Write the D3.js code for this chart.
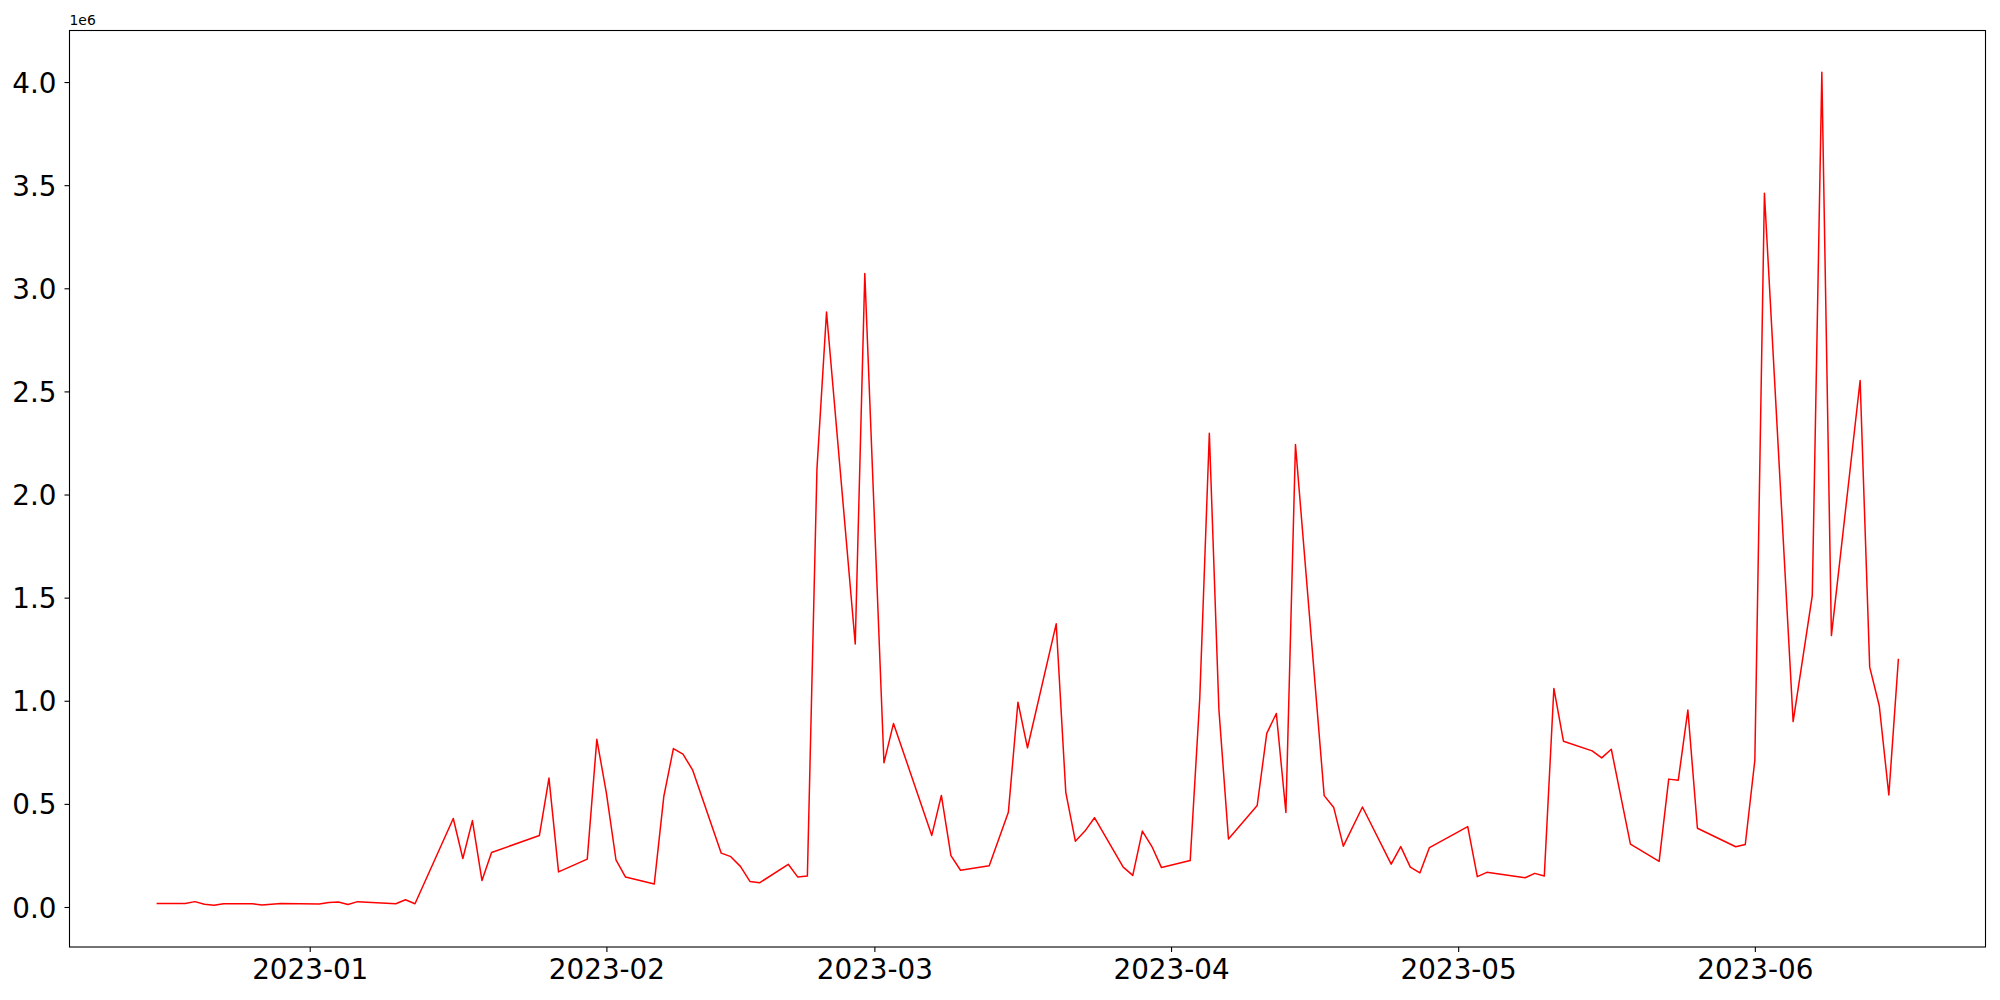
<!DOCTYPE html>
<html>
<head>
<meta charset="utf-8">
<script src="https://cdn.jsdelivr.net/npm/d3@7"></script>
<style>
  html, body { margin: 0; padding: 0; background: #fff; }
  svg { display: block; }
  text { font-family: "DejaVu Sans", sans-serif; fill: #000; }
</style>
</head>
<body>
<svg id="chart" width="2000" height="1000"></svg>
<script>
// ---- data (values in units, dates as YYYY-MM-DD) ----
const dates = [
  "2022-12-16","2022-12-19","2022-12-20","2022-12-21","2022-12-22","2022-12-23",
  "2022-12-26","2022-12-27","2022-12-29","2023-01-02","2023-01-03","2023-01-04",
  "2023-01-05","2023-01-06","2023-01-10","2023-01-11","2023-01-12","2023-01-16",
  "2023-01-17","2023-01-18","2023-01-19","2023-01-20","2023-01-25","2023-01-26",
  "2023-01-27","2023-01-30","2023-01-31","2023-02-01","2023-02-02","2023-02-03",
  "2023-02-06","2023-02-07","2023-02-08","2023-02-09","2023-02-10","2023-02-13",
  "2023-02-14","2023-02-15","2023-02-16","2023-02-17","2023-02-20","2023-02-21",
  "2023-02-22","2023-02-23","2023-02-24","2023-02-27","2023-02-28","2023-03-02",
  "2023-03-03","2023-03-07","2023-03-08","2023-03-09","2023-03-10","2023-03-13",
  "2023-03-15","2023-03-16","2023-03-17","2023-03-20","2023-03-21","2023-03-22",
  "2023-03-23","2023-03-24","2023-03-27","2023-03-28","2023-03-29","2023-03-30",
  "2023-03-31","2023-04-03","2023-04-04","2023-04-05","2023-04-06","2023-04-07",
  "2023-04-10","2023-04-11","2023-04-12","2023-04-13","2023-04-14","2023-04-17",
  "2023-04-18","2023-04-19","2023-04-21","2023-04-24","2023-04-25","2023-04-26",
  "2023-04-27","2023-04-28","2023-05-02","2023-05-03","2023-05-04","2023-05-08",
  "2023-05-09","2023-05-10","2023-05-11","2023-05-12","2023-05-15","2023-05-16",
  "2023-05-17","2023-05-19","2023-05-22","2023-05-23","2023-05-24","2023-05-25",
  "2023-05-26","2023-05-30","2023-05-31","2023-06-01","2023-06-02","2023-06-05",
  "2023-06-07","2023-06-08","2023-06-09","2023-06-12","2023-06-13","2023-06-14",
  "2023-06-15","2023-06-16"
];
const values = [
  17000, 17000, 26000, 13000, 8000, 16000,
  16000, 10000, 17000, 14000, 22000, 24000,
  12000, 26000, 16000, 35000, 16000, 429000,
  235000, 419000, 128000, 264000, 347000, 625000,
  170000, 232000, 813000, 552000, 229000, 145000,
  111000, 536000, 768000, 741000, 665000, 261000,
  244000, 197000, 124000, 117000, 207000, 145000,
  150000, 2124000, 2885000, 1275000, 3072000, 699000,
  890000, 347000, 541000, 249000, 178000, 200000,
  459000, 993000, 772000, 1373000, 556000, 319000,
  368000, 433000, 193000, 153000, 368000, 293000,
  191000, 225000, 1012000, 2297000, 957000, 330000,
  492000, 842000, 938000, 458000, 2242000, 540000,
  482000, 295000, 485000, 208000, 293000, 193000,
  165000, 288000, 390000, 147000, 168000, 142000,
  163000, 150000, 1060000, 804000, 757000, 723000,
  765000, 305000, 221000, 620000, 615000, 955000,
  382000, 292000, 303000, 712000, 3461000, 899000,
  1510000, 4048000, 1316000, 2553000, 1163000, 976000,
  543000, 1204000
];
const xTickDates = ["2023-01-01","2023-02-01","2023-03-01","2023-04-01","2023-05-01","2023-06-01"];
const xTickLabels = ["2023-01","2023-02","2023-03","2023-04","2023-05","2023-06"];
const yTicks = [0, 500000, 1000000, 1500000, 2000000, 2500000, 3000000, 3500000, 4000000];
const yOffsetLabel = "1e6";

// ---- layout ----
const L = 69.5, R = 1985.5, T = 30.5, B = 947;
const parse = d3.utcParse("%Y-%m-%d");
const pts = dates.map((d, i) => ({ t: parse(d), v: values[i] }));

const tExt = d3.extent(pts, d => +d.t);
const tPad = (tExt[1] - tExt[0]) * 0.05;
const vExt = d3.extent(pts, d => d.v);
const vPad = (vExt[1] - vExt[0]) * 0.05;

const x = d3.scaleUtc().domain([new Date(tExt[0] - tPad), new Date(tExt[1] + tPad)]).range([L, R]);
const y = d3.scaleLinear().domain([vExt[0] - vPad, vExt[1] + vPad]).range([B, T]);

const svg = d3.select("#chart");

// line
const line = d3.line().x(d => x(d.t)).y(d => y(d.v));
svg.append("path")
  .datum(pts)
  .attr("fill", "none")
  .attr("stroke", "#ff0000")
  .attr("stroke-width", 1.5)
  .attr("stroke-linejoin", "round")
  .attr("d", line);

// frame
svg.append("rect")
  .attr("x", L).attr("y", T).attr("width", R - L).attr("height", B - T)
  .attr("fill", "none").attr("stroke", "#000").attr("stroke-width", 1.1);

// x axis
const xAxis = d3.axisBottom(x)
  .tickValues(xTickDates.map(parse))
  .tickFormat((d, i) => xTickLabels[i])
  .tickSize(5).tickPadding(5);
const gx = svg.append("g").attr("transform", `translate(0,${B})`).call(xAxis);
gx.select(".domain").remove();
gx.selectAll(".tick line").attr("stroke", "#000").attr("stroke-width", 1.1);
gx.selectAll(".tick text")
  .attr("font-family", "DejaVu Sans")
  .attr("font-size", "27.8px")
  .attr("fill", "#000")
  .attr("dy", "0.78em");

// y axis
const yAxis = d3.axisLeft(y)
  .tickValues(yTicks)
  .tickFormat(d => (d / 1e6).toFixed(1))
  .tickSize(5).tickPadding(8);
const gy = svg.append("g").attr("transform", `translate(${L},0)`).call(yAxis);
gy.select(".domain").remove();
gy.selectAll(".tick line").attr("stroke", "#000").attr("stroke-width", 1.1);
gy.selectAll(".tick text")
  .attr("font-family", "DejaVu Sans")
  .attr("font-size", "27.8px")
  .attr("fill", "#000")
  .attr("dy", "0.36em");

// offset text
svg.append("text")
  .attr("x", L).attr("y", T - 6)
  .attr("font-size", "13.9px")
  .attr("text-anchor", "start")
  .text(yOffsetLabel);
</script>
</body>
</html>
